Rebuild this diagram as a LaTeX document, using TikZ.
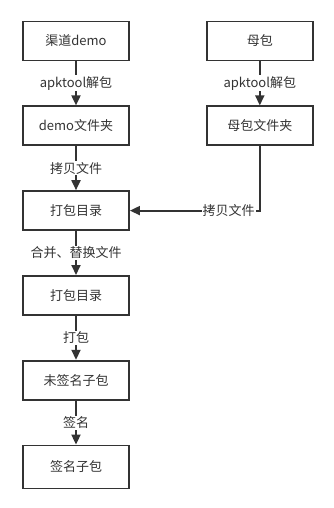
\documentclass[tikz,border=0pt]{standalone}
\usepackage{fontspec}
\setmainfont{Noto Sans CJK SC}
\usetikzlibrary{arrows.meta,positioning}
\definecolor{tinta}{HTML}{333333}

\begin{document}
\begin{tikzpicture}[x=1pt,y=1pt,>={Triangle[length=10pt,width=9pt]},node distance=44pt,
  b/.style={draw=tinta,line width=1.8pt,minimum height=39pt,minimum width=106pt,text=tinta,font=\fontsize{13}{15}\selectfont},
  lbl/.style={fill=white,text=tinta,inner sep=1pt,font=\fontsize{13}{15}\selectfont},
  flecha/.style={->,draw=tinta,line width=1.8pt}]
\useasboundingbox (0,0) rectangle (334,-508);
\node[b] (qd) at (76,-41) {渠道demo};
\node[b,right=76pt of qd] (mb) {母包};
\node[b,below=of qd] (dw) {demo文件夹};
\node[b,below=of mb] (mw) {母包文件夹};
\node[b,below=of dw] (d1) {打包目录};
\node[b,below=of d1] (d2) {打包目录};
\node[b,below=of d2] (wq) {未签名子包};
\node[b,below=of wq,minimum height=43pt] (qz) {签名子包};
\draw[flecha] (qd)--(dw) node[lbl,midway] {apktool解包};
\draw[flecha] (mb)--(mw) node[lbl,midway] {apktool解包};
\draw[flecha] (dw)--(d1) node[lbl,midway] {拷贝文件};
\draw[flecha] (mw.south) |- (d1.east) node[lbl,pos=0.62] {拷贝文件};
\draw[flecha] (d1)--(d2) node[lbl,midway] {合并、替换文件};
\draw[flecha] (d2)--(wq) node[lbl,midway] {打包};
\draw[flecha] (wq)--(qz) node[lbl,midway] {签名};
\end{tikzpicture}
\end{document}
